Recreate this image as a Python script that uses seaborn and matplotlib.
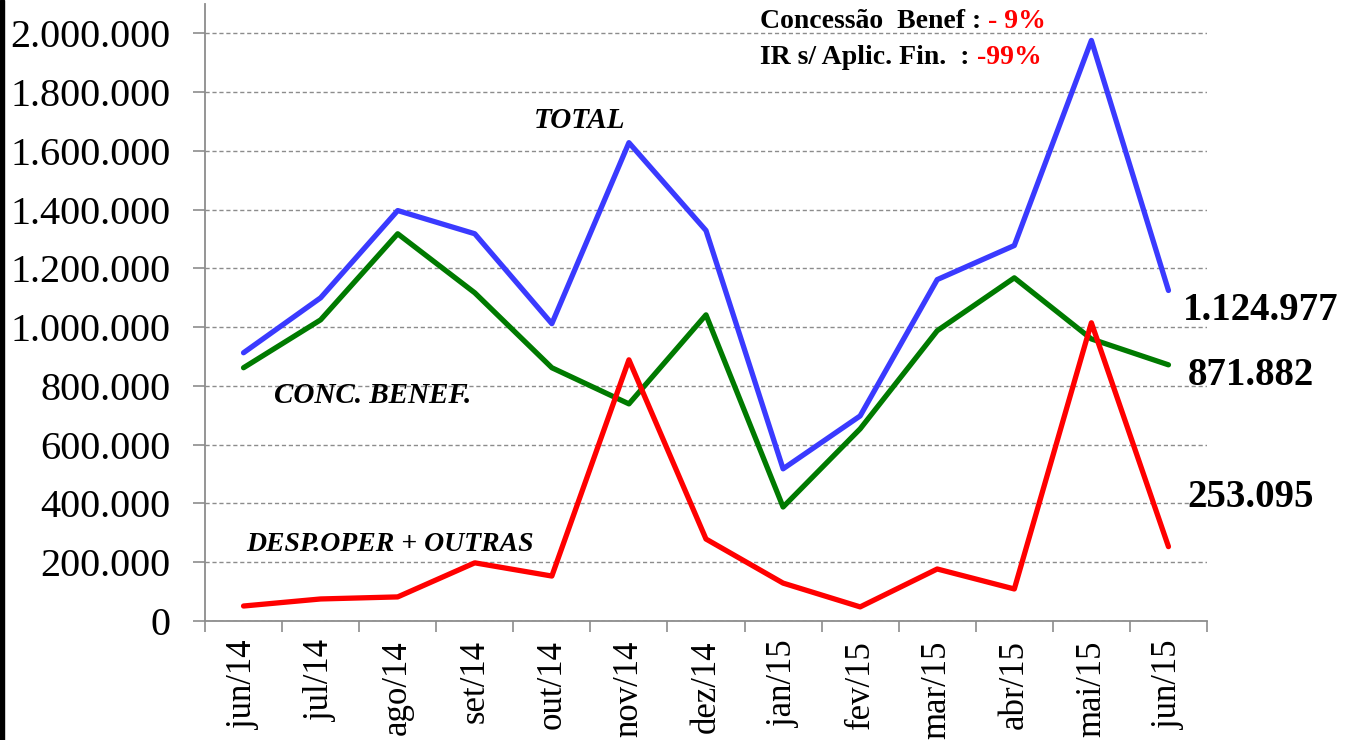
import matplotlib
matplotlib.use('Agg')
import matplotlib.pyplot as plt
import seaborn as sns
import pandas as pd
from matplotlib.ticker import FuncFormatter, FixedLocator
from matplotlib.patches import Rectangle

# Monthly values
months = ['jun/14', 'jul/14', 'ago/14', 'set/14', 'out/14', 'nov/14', 'dez/14',
          'jan/15', 'fev/15', 'mar/15', 'abr/15', 'mai/15', 'jun/15']
total = [913000, 1100000, 1397000, 1318000, 1012000, 1628000, 1329000,
         518000, 698000, 1162000, 1278000, 1976000, 1124977]
conc_benef = [862000, 1025000, 1318000, 1117000, 862000, 739000, 1042000,
              388000, 654000, 988000, 1168000, 960000, 871882]
desp_oper = [51000, 75000, 82000, 198000, 153000, 889000, 279000,
             129000, 48000, 177000, 109000, 1015000, 253095]

y_ticks = [0, 200000, 400000, 600000, 800000, 1000000, 1200000,
           1400000, 1600000, 1800000, 2000000]

df = pd.DataFrame({'Mes': months, 'TOTAL': total,
                   'CONC': conc_benef, 'DESP': desp_oper})

sns.set_style('white')
plt.rcParams['font.family'] = ['Liberation Serif', 'DejaVu Serif']
plt.rcParams['text.color'] = 'black'
plt.rcParams['xtick.labelcolor'] = 'black'
plt.rcParams['ytick.labelcolor'] = 'black'

fig = plt.figure(figsize=(13.6, 7.4), dpi=100)
ax = fig.add_axes([205 / 1360, 119 / 740, 1002 / 1360, 617 / 740])

sns.lineplot(data=df, x='Mes', y='TOTAL', color='#3A3AFF', lw=3.8, sort=False, ax=ax)
sns.lineplot(data=df, x='Mes', y='CONC', color='#007A00', lw=3.8, sort=False, ax=ax)
sns.lineplot(data=df, x='Mes', y='DESP', color='#FF0000', lw=3.8, sort=False, ax=ax)

ax.set_xlim(-0.5, 12.5)
ax.set_ylim(0, 2100000)
ax.set_xlabel('')
ax.set_ylabel('')

# y axis
ax.yaxis.set_major_locator(FixedLocator(y_ticks))
ax.yaxis.set_major_formatter(FuncFormatter(lambda v, p: f'{int(v):,}'.replace(',', '.')))
ax.grid(axis='y', color='#8c8c8c', lw=1.0, linestyle=(0, (3, 2)))
ax.tick_params(axis='y', length=9, width=1.2, color='#8c8c8c', pad=16,
               labelsize=29, left=True, labelcolor='black')

# x axis: labels centred, tick marks between categories
ax.xaxis.set_minor_locator(FixedLocator([i - 0.5 for i in range(14)]))
ax.tick_params(axis='x', which='major', length=0, pad=14, labelsize=25,
               rotation=90, labelcolor='black')
ax.tick_params(axis='x', which='minor', length=8, width=1.2, color='#8c8c8c', bottom=True)

for s in ['top', 'right']:
    ax.spines[s].set_visible(False)
for s in ['left', 'bottom']:
    ax.spines[s].set_color('#8c8c8c')
    ax.spines[s].set_linewidth(1.3)

# series names
ax.text(4.36, 1703000, 'TOTAL', fontsize=21, fontweight='bold', style='italic',
        ha='center', va='center')
ax.text(1.67, 767000, 'CONC. BENEF.', fontsize=21, fontweight='bold', style='italic',
        ha='center', va='center')
ax.text(1.90, 262000, 'DESP.OPER + OUTRAS', fontsize=20, fontweight='bold', style='italic',
        ha='center', va='center')

# last values
ax.text(12.19, 1056000, '1.124.977', fontsize=28, fontweight='bold', va='center', clip_on=False)
ax.text(12.25, 835000, '871.882', fontsize=28, fontweight='bold', va='center', clip_on=False)
ax.text(12.25, 419000, '253.095', fontsize=28, fontweight='bold', va='center', clip_on=False)

# variation notes
t1 = fig.text(760 / 1360, 1 - 22 / 740, 'Concessão  Benef : ', fontsize=20,
              fontweight='bold', va='center')
ax.annotate('- 9%', xy=(1, 0), xycoords=t1, va='bottom', fontsize=20,
            fontweight='bold', color='#FF0000', annotation_clip=False)
t2 = fig.text(760 / 1360, 1 - 58 / 740, 'IR s/ Aplic. Fin.  : ', fontsize=20,
              fontweight='bold', va='center')
ax.annotate('-99%', xy=(1, 0), xycoords=t2, va='bottom', fontsize=20,
            fontweight='bold', color='#FF0000', annotation_clip=False)

# dark edge at the left of the picture
fig.patches.append(Rectangle((0, 0), 4 / 1360, 1, transform=fig.transFigure,
                             color='black', zorder=10))

fig.savefig('out.png', dpi=100)
